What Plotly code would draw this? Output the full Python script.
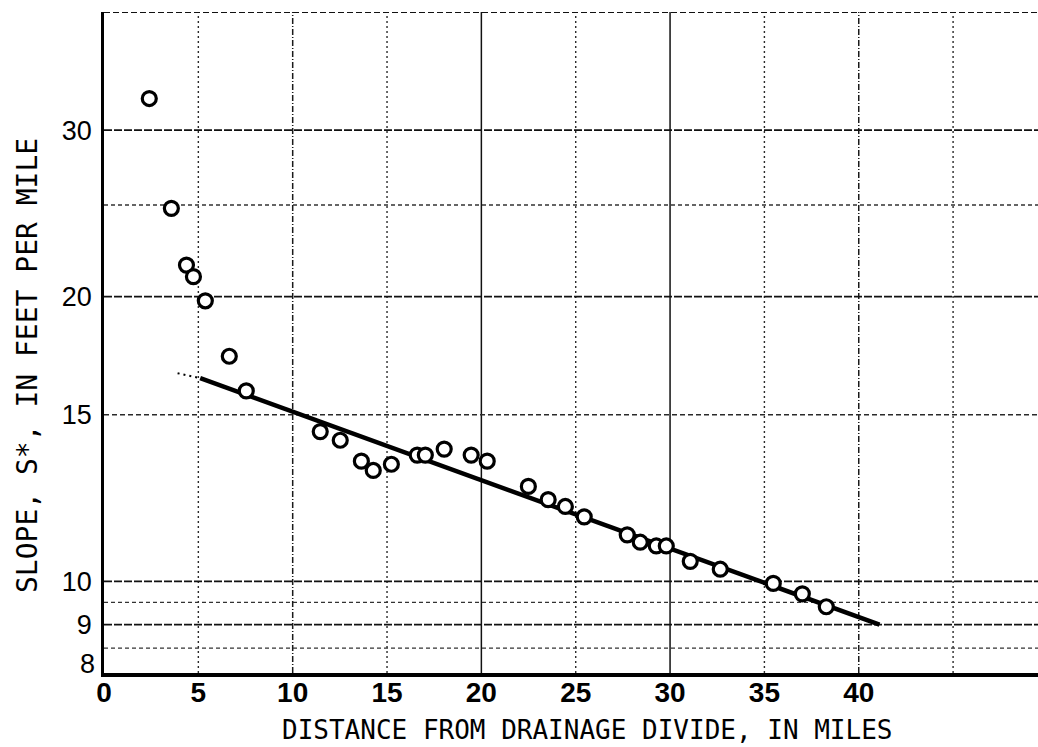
import math
import plotly.graph_objects as go

# Measured channel slope versus distance from the drainage divide
distance_mi = [2.4, 3.57, 4.37, 4.74, 5.37, 6.64, 7.54, 11.46, 12.52, 13.64,
               14.27, 15.23, 16.60, 17.03, 18.03, 19.46, 20.31, 22.49, 23.54, 24.45,
               25.45, 27.73, 28.42, 29.27, 29.80, 31.07, 32.66, 35.47, 37.01, 38.28]
slope_ft_per_mi = [32.4, 24.8, 21.6, 21.0, 19.8, 17.3, 15.9, 14.4, 14.1, 13.4,
                   13.1, 13.3, 13.6, 13.6, 13.8, 13.6, 13.4, 12.6, 12.2, 12.0,
                   11.7, 11.2, 11.0, 10.9, 10.9, 10.5, 10.3, 9.95, 9.7, 9.4]

# Fitted trend line and its short dotted extension upstream
fit_x = [5.1, 41.1]
fit_y = [16.4, 9.0]
ext_x = [3.9, 5.1]
ext_y = [16.6, 16.4]

x_ticks = [0, 5, 10, 15, 20, 25, 30, 35, 40]
y_ticks = [8, 9, 10, 15, 20, 30]

X_MAX = 49.5
Y_MIN, Y_MAX = 8.0, 40.0

fig = go.Figure()

def vline(x, dash, width=1.2, color="#1a1a1a"):
    fig.add_trace(go.Scatter(x=[x, x], y=[Y_MIN, Y_MAX], mode="lines",
                             line=dict(color=color, width=width, dash=dash),
                             hoverinfo="skip", showlegend=False))

def hline(y, dash, width=1.2, color="#1a1a1a"):
    fig.add_trace(go.Scatter(x=[0, X_MAX], y=[y, y], mode="lines",
                             line=dict(color=color, width=width, dash=dash),
                             hoverinfo="skip", showlegend=False))

# graph-paper rulings
for gx in [20, 30]:
    vline(gx, "solid", 1.5, "#111")
for gx in [10, 40]:
    vline(gx, "6px,2px,1px,2px", 1.5)
for gx in [5, 15, 25, 35, 45]:
    vline(gx, "2px,3px", 1.4, "#2a2a2a")

for gy in [30, 20, 10, 9]:
    hline(gy, "8px,2px", 1.8, "#111")
for gy in [15]:
    hline(gy, "5px,3px", 1.5, "#2a2a2a")
for gy in [25, 9.5, 8.5]:
    hline(gy, "4px,3px", 1.4, "#333")

# top border of the sheet
hline(Y_MAX, "6px,3px", 1.8, "#111")

# trend line
fig.add_trace(go.Scatter(x=ext_x, y=ext_y, mode="lines",
                         line=dict(color="black", width=2, dash="2px,4px"),
                         hoverinfo="skip", showlegend=False))
fig.add_trace(go.Scatter(x=fit_x, y=fit_y, mode="lines",
                         line=dict(color="black", width=4.5),
                         hoverinfo="skip", showlegend=False))

# observations
fig.add_trace(go.Scatter(x=distance_mi, y=slope_ft_per_mi, mode="markers",
                         marker=dict(symbol="circle", size=14, color="white",
                                     line=dict(color="black", width=3.2)),
                         showlegend=False))

# the lowest y label sits just above the x axis line
y_ticktext = ["" if v == Y_MIN else str(v) for v in y_ticks]
tick_font_y = dict(family="Liberation Sans, Arial, sans-serif", size=27, color="black")

fig.update_layout(
    width=1038, height=747,
    margin=dict(l=104, r=0, t=12, b=74),
    paper_bgcolor="white", plot_bgcolor="white",
    xaxis=dict(range=[0, X_MAX], tickvals=x_ticks, showgrid=False, zeroline=False,
               showline=True, linecolor="black", linewidth=3.5, ticks="",
               tickfont=dict(family="Liberation Sans Narrow, Arial Narrow, sans-serif",
                             size=28, color="black", weight="bold"),
               ticklabelstandoff=-8),
    yaxis=dict(type="log", range=[math.log10(Y_MIN), math.log10(Y_MAX)], tickvals=y_ticks,
               ticktext=y_ticktext, showgrid=False, zeroline=False,
               showline=True, linecolor="black", linewidth=2.5, ticks="",
               tickfont=tick_font_y, ticklabelstandoff=4),
    annotations=[
        dict(text=str(Y_MIN).rstrip("0").rstrip("."), xref="paper", yref="y",
             x=0, y=math.log10(Y_MIN), xanchor="right", yanchor="middle",
             xshift=-7, yshift=9, showarrow=False, font=tick_font_y),
        dict(text="DISTANCE FROM DRAINAGE DIVIDE, IN MILES", xref="paper", yref="paper",
             x=(587 - 104) / 934, y=-(730 - 673) / 661, xanchor="center", yanchor="middle",
             showarrow=False,
             font=dict(family="DejaVu Sans Mono, monospace", size=26, color="black")),
        dict(text="SLOPE, S*, IN FEET PER MILE", xref="paper", yref="paper",
             x=-(104 - 27) / 934, y=(673 - 366) / 661, xanchor="center", yanchor="middle",
             textangle=-90, showarrow=False,
             font=dict(family="DejaVu Sans Mono, monospace", size=28, color="black")),
    ],
)

fig.write_html("out.html")
